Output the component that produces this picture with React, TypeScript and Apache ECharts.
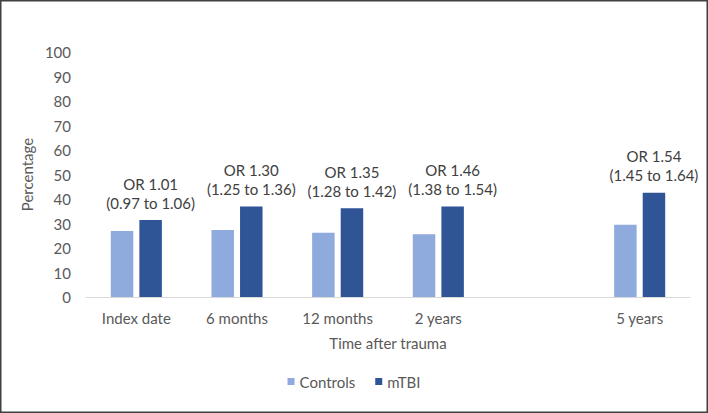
import React, { useEffect, useRef } from "react";
import * as echarts from "echarts";

const categories = ["Index date", "6 months", "12 months", "2 years", "", "5 years"];
const controls = [26.9, 27.3, 26.2, 25.6, null, 29.5];
const mtbi = [31.4, 36.9, 36.2, 36.9, null, 42.6];
const orLabels = [
  "OR 1.01\n(0.97 to 1.06)",
  "OR 1.30\n(1.25 to 1.36)",
  "OR 1.35\n(1.28 to 1.42)",
  "OR 1.46\n(1.38 to 1.54)",
  "",
  "OR 1.54\n(1.45 to 1.64)",
];

const FONT = "Lato, 'Open Sans', sans-serif";

export default function App() {
  const ref = useRef<HTMLDivElement>(null);
  useEffect(() => {
    if (!ref.current) return;
    const chart = echarts.init(ref.current, null, { renderer: "svg" });
    chart.setOption({
      animation: false,
      backgroundColor: "#ffffff",
      textStyle: { fontFamily: FONT },
      graphic: [
        {
          type: "rect",
          shape: { x: 0.75, y: 0.75, width: 706.5, height: 411.5 },
          style: { fill: "none", stroke: "#404040", lineWidth: 1.5 },
          silent: true,
        },
      ],
      grid: { left: 86, right: 18, top: 52, bottom: 116 },
      legend: {
        bottom: 19,
        left: "center",
        itemWidth: 7,
        itemHeight: 7,
        itemGap: 20,
        icon: "rect",
        textStyle: { fontFamily: FONT, fontSize: 15, color: "#595959" },
        data: ["Controls", "mTBI"],
      },
      xAxis: {
        type: "category",
        data: categories,
        name: "Time after trauma",
        nameLocation: "middle",
        nameGap: 38,
        nameTextStyle: { fontFamily: FONT, fontSize: 15, color: "#595959" },
        axisLine: { lineStyle: { color: "#d9d9d9", width: 1 } },
        axisTick: { show: false },
        axisLabel: { fontFamily: FONT, fontSize: 15, color: "#595959", margin: 13 },
      },
      yAxis: {
        type: "value",
        min: 0,
        max: 100,
        interval: 10,
        name: "Percentage",
        nameLocation: "middle",
        nameGap: 42,
        nameTextStyle: { fontFamily: FONT, fontSize: 15, color: "#595959" },
        axisLine: { show: false },
        axisTick: { show: false },
        splitLine: { show: false },
        axisLabel: { fontFamily: FONT, fontSize: 15, color: "#595959", margin: 15 },
      },
      series: [
        {
          name: "Controls",
          type: "bar",
          data: controls,
          barWidth: 22.5,
          barGap: "27%",
          itemStyle: { color: "#8faadc" },
        },
        {
          name: "mTBI",
          type: "bar",
          data: mtbi,
          barWidth: 22.5,
          barGap: "27%",
          itemStyle: { color: "#2f5597" },
          label: {
            show: true,
            position: "top",
            distance: 8,
            formatter: (p: any) => orLabels[p.dataIndex],
            fontFamily: FONT,
            fontSize: 15,
            lineHeight: 19,
            color: "#404040",
          },
        },
      ],
    });
    return () => chart.dispose();
  }, []);
  return (
    <div
      ref={ref}
      style={{ position: "absolute", left: 0, top: 0, width: 708, height: 413 }}
    />
  );
}
